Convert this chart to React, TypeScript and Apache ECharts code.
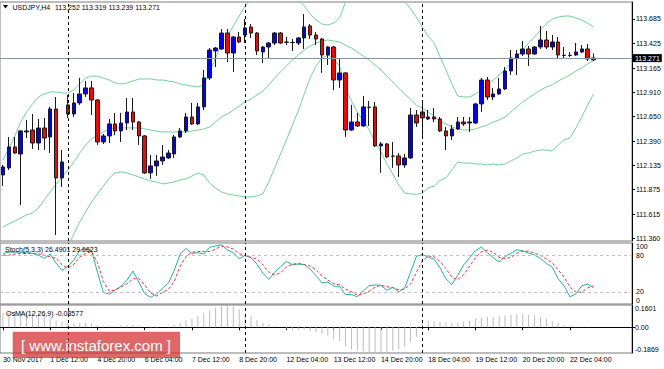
import React, { useEffect, useRef } from "react";
import * as echarts from "echarts";

// ---------- DATA ----------
const symbolName = "USDJPY,H4";
const xTickLabels = [
  "30 Nov 2017", "1 Dec 12:00", "4 Dec 20:00", "6 Dec 04:00", "7 Dec 12:00", "8 Dec 20:00",
  "12 Dec 04:00", "13 Dec 12:00", "14 Dec 20:00", "18 Dec 04:00", "19 Dec 12:00", "20 Dec 20:00", "22 Dec 04:00",
];
const barsPerTick = 8;
const slotCount = 107; // 101 bars + chart shift
const weekSeparators = [11, 41, 71];

const priceTicks = [113.685, 113.425, 113.165, 112.91, 112.65, 112.39, 112.135, 111.875, 111.615, 111.36];
const stochTicks = [0, 20, 80, 100];
const stochLevels = [80, 20];
const osmaTicks = [-0.1869, 0, 0.1601];
const osmaLabelValue = "-0.08577";

const open = [
  112.031, 112.106, 112.328, 112.254, 112.487, 112.508, 112.370, 112.529, 112.434, 112.731,
  111.999, 112.774, 112.678, 112.795, 112.890, 112.954, 112.826, 112.381, 112.445, 112.572,
  112.498, 112.582, 112.699, 112.593, 112.445, 112.053, 112.127, 112.180, 112.212, 112.254,
  112.434, 112.498, 112.646, 112.572, 112.753, 113.060, 113.346, 113.367, 113.536, 113.324,
  113.494, 113.515, 113.600, 113.536, 113.335, 113.388, 113.430, 113.536, 113.441, 113.435,
  113.430, 113.484, 113.611, 113.515, 113.473, 113.303, 113.388, 113.038, 113.113, 112.508,
  112.593, 112.551, 112.750, 112.753, 112.339, 112.360, 112.232, 112.233, 112.137, 112.212,
  112.667, 112.699, 112.625, 112.646, 112.625, 112.498, 112.445, 112.519, 112.593, 112.582,
  112.582, 112.784, 113.038, 112.858, 112.890, 112.943, 113.134, 113.271, 113.314, 113.367,
  113.314, 113.388, 113.462, 113.388, 113.441, 113.300, 113.298, 113.303, 113.335, 113.367,
  113.252,
];
const close = [
  112.116, 112.328, 112.264, 112.498, 112.498, 112.370, 112.529, 112.423, 112.731, 111.999,
  112.169, 112.678, 112.795, 112.890, 112.954, 112.826, 112.381, 112.445, 112.572, 112.498,
  112.582, 112.699, 112.593, 112.445, 112.053, 112.127, 112.180, 112.222, 112.264, 112.434,
  112.498, 112.646, 112.572, 112.753, 113.060, 113.356, 113.377, 113.536, 113.324, 113.494,
  113.441, 113.590, 113.536, 113.346, 113.388, 113.430, 113.536, 113.430, 113.438, 113.437,
  113.484, 113.600, 113.515, 113.473, 113.303, 113.388, 113.038, 113.113, 112.508, 112.593,
  112.551, 112.753, 112.748, 112.339, 112.360, 112.222, 112.230, 112.137, 112.212, 112.667,
  112.582, 112.636, 112.646, 112.625, 112.498, 112.445, 112.519, 112.593, 112.572, 112.593,
  112.784, 113.038, 112.858, 112.890, 112.943, 113.134, 113.271, 113.314, 113.367, 113.314,
  113.388, 113.462, 113.388, 113.441, 113.303, 113.298, 113.300, 113.335, 113.367, 113.261,
  113.271,
];
const low = [
  111.915, 112.084, 112.254, 111.713, 112.423, 112.307, 112.296, 112.296, 112.264, 111.395,
  111.904, 112.636, 112.646, 112.774, 112.858, 112.667, 112.349, 112.360, 112.370, 112.455,
  112.381, 112.508, 112.508, 112.349, 112.042, 111.989, 112.021, 112.137, 112.201, 112.212,
  112.423, 112.476, 112.561, 112.561, 112.720, 113.038, 113.176, 113.356, 113.229, 113.123,
  113.430, 113.430, 113.484, 113.303, 113.219, 113.261, 113.409, 113.420, 113.409, 113.346,
  113.409, 113.367, 113.473, 113.409, 113.113, 113.197, 112.932, 112.954, 112.434, 112.498,
  112.540, 112.540, 112.551, 112.328, 112.053, 112.212, 112.106, 112.010, 112.106, 112.201,
  112.540, 112.434, 112.614, 112.593, 112.487, 112.296, 112.402, 112.508, 112.551, 112.487,
  112.572, 112.699, 112.826, 112.826, 112.880, 112.932, 113.091, 113.091, 113.293, 113.187,
  113.303, 113.367, 113.367, 113.356, 113.261, 113.261, 113.282, 113.293, 113.324, 113.240,
  113.239,
];
const high = [
  112.137, 112.434, 112.434, 112.508, 112.614, 112.678, 112.625, 112.636, 112.753, 112.858,
  112.296, 112.880, 112.901, 113.060, 113.028, 113.028, 112.837, 112.466, 112.625, 112.689,
  112.689, 112.848, 112.848, 112.604, 112.455, 112.243, 112.243, 112.349, 112.296, 112.455,
  112.529, 112.689, 112.795, 112.795, 113.144, 113.377, 113.388, 113.579, 113.579, 113.505,
  113.547, 113.685, 113.632, 113.547, 113.398, 113.441, 113.547, 113.547, 113.494, 113.473,
  113.494, 113.738, 113.632, 113.547, 113.484, 113.398, 113.398, 113.271, 113.123, 112.774,
  112.689, 112.869, 112.816, 112.805, 112.381, 112.370, 112.381, 112.264, 112.254, 112.742,
  112.720, 112.826, 112.720, 112.742, 112.646, 112.540, 112.561, 112.646, 112.646, 112.646,
  112.795, 113.060, 113.070, 112.954, 113.060, 113.176, 113.356, 113.356, 113.452, 113.398,
  113.398, 113.611, 113.558, 113.515, 113.494, 113.388, 113.335, 113.430, 113.409, 113.420,
  113.319,
];

const bbUpper = [
  112.190, 112.317, 112.444, 112.593, 112.699, 112.784, 112.858, 112.890, 112.911, 112.911,
  112.900, 112.900, 112.932, 112.996, 113.059, 113.080, 113.080, 113.059, 113.038, 113.006,
  112.996, 113.006, 113.027, 113.049, 113.049, 113.049, 113.038, 113.038, 113.027, 113.017,
  112.996, 112.985, 112.974, 112.964, 112.985, 113.123, 113.271, 113.420, 113.504, 113.610,
  113.716, 113.822, 113.907, 113.971, 114.013, 114.013, 114.013, 113.992, 113.971, 113.928,
  113.897, 113.822, 113.738, 113.674, 113.632, 113.621, 113.642, 113.695, 113.865, 113.939,
  113.971, 113.981, 113.992, 114.013, 114.013, 114.013, 113.992, 113.950, 113.875, 113.791,
  113.705, 113.600, 113.504, 113.430, 113.282, 113.144, 112.996, 112.868, 112.858, 112.858,
  112.890, 112.932, 112.985, 113.038, 113.091, 113.144, 113.218, 113.292, 113.356, 113.430,
  113.494, 113.568, 113.632, 113.685, 113.706, 113.716, 113.716, 113.695, 113.674, 113.642,
  113.600,
];
const bbMiddle = [
  111.480, 111.512, 111.543, 111.575, 111.607, 111.628, 111.681, 111.766, 111.851, 111.936,
  112.010, 112.084, 112.169, 112.264, 112.349, 112.413, 112.455, 112.487, 112.519, 112.530,
  112.530, 112.530, 112.530, 112.530, 112.519, 112.508, 112.497, 112.487, 112.487, 112.487,
  112.487, 112.487, 112.497, 112.508, 112.519, 112.540, 112.593, 112.646, 112.678, 112.720,
  112.762, 112.805, 112.837, 112.879, 112.921, 112.985, 113.059, 113.123, 113.186, 113.250,
  113.303, 113.356, 113.398, 113.430, 113.451, 113.462, 113.451, 113.441, 113.409, 113.377,
  113.335, 113.292, 113.250, 113.197, 113.144, 113.080, 113.017, 112.953, 112.890, 112.837,
  112.770, 112.741, 112.699, 112.656, 112.600, 112.572, 112.540, 112.519, 112.508, 112.508,
  112.519, 112.540, 112.561, 112.593, 112.614, 112.646, 112.699, 112.752, 112.805, 112.847,
  112.890, 112.932, 112.964, 112.985, 113.027, 113.059, 113.091, 113.134, 113.165, 113.210,
  113.245,
];
const bbLower = [
  110.770, 110.706, 110.642, 110.558, 110.515, 110.473, 110.505, 110.642, 110.791, 110.960,
  111.119, 111.268, 111.406, 111.533, 111.639, 111.745, 111.830, 111.914, 111.999, 112.052,
  112.063, 112.052, 112.031, 112.010, 111.989, 111.967, 111.957, 111.936, 111.946, 111.957,
  111.978, 111.989, 112.020, 112.052, 112.031, 111.946, 111.893, 111.851, 111.830, 111.819,
  111.808, 111.798, 111.798, 111.808, 111.830, 111.957, 112.105, 112.254, 112.402, 112.561,
  112.709, 112.890, 113.059, 113.186, 113.271, 113.303, 113.261, 113.186, 112.953, 112.815,
  112.699, 112.603, 112.508, 112.381, 112.275, 112.148, 112.042, 111.925, 111.840, 111.830,
  111.825, 111.840, 111.893, 111.914, 111.972, 111.999, 112.084, 112.169, 112.158, 112.158,
  112.148, 112.148, 112.137, 112.148, 112.137, 112.148, 112.179, 112.211, 112.254, 112.264,
  112.285, 112.296, 112.296, 112.285, 112.349, 112.402, 112.423, 112.529, 112.646, 112.773,
  112.890,
];

const stochMain = [
  83, 85, 85, 85, 84, 83, 80, 75, 82, 67,
  55, 62, 72, 88, 90, 88, 52, 19, 16, 23,
  29, 39, 54, 36, 17, 11, 16, 26, 34, 55,
  82, 91, 83, 84, 82, 93, 95, 97, 88.6, 84.2,
  74.2, 79.6, 75.8, 65.4, 50.6, 40.4, 51.8, 61.2, 69.9, 64.3,
  65.4, 64.6, 57.0, 46.8, 34.5, 36.1, 29.3, 29.0, 15.3, 15.7,
  11.8, 21.5, 30.1, 31.2, 30.9, 22.4, 27.3, 19.9, 26.2, 51.9,
  78.0, 81.4, 76.6, 73.6, 59.2, 41.2, 31.9, 47.0, 64.1, 75.9,
  87.4, 93.5, 84.2, 76.2, 68.8, 77.6, 83.1, 89.0, 87.0, 83.7,
  80.2, 74.9, 66.6, 60.4, 41.5, 29.6, 11.8, 16.6, 30.0, 32.5,
  26.4901,
];
const stochSignal = [
  80, 80, 82, 83, 83, 83, 82, 80, 77, 75,
  64, 59, 65, 77, 83, 86, 68, 37, 21, 23,
  28, 33, 41, 42, 31, 18, 13, 19, 24, 37,
  62, 78, 85, 86, 86, 86, 90, 95, 93.7, 90.0,
  82.3, 79.3, 76.5, 73.6, 63.9, 52.1, 47.6, 51.1, 61.0, 65.1,
  66.5, 64.8, 62.3, 56.1, 46.1, 39.1, 33.3, 31.5, 24.5, 20.0,
  14.3, 16.3, 21.1, 27.6, 30.7, 28.2, 26.9, 23.2, 24.5, 32.7,
  52.0, 70.4, 78.7, 77.2, 69.8, 58.0, 44.1, 40.0, 47.7, 62.3,
  75.8, 85.6, 88.4, 84.6, 76.4, 74.2, 76.5, 83.2, 86.4, 86.6,
  83.6, 79.6, 73.9, 67.3, 56.2, 43.8, 27.6, 19.3, 19.5, 26.4,
  29.6623,
];
const osma = [
  0.100, 0.105, 0.110, 0.110, 0.105, 0.100, 0.095, 0.090, 0.070, 0.050,
  0.040, 0.030, 0.025, 0.030, 0.030, 0.025, 0.010, 0.005, 0.010, 0.010,
  0.012, 0.015, 0.015, 0.012, 0.000, -0.005, -0.005, 0.000, 0.005, 0.015,
  0.030, 0.050, 0.060, 0.080, 0.100, 0.120, 0.140, 0.155, 0.1601, 0.150,
  0.130, 0.100, 0.080, 0.050, 0.030, 0.020, 0.010, 0.000, -0.010, -0.020,
  -0.020, -0.020, -0.030, -0.035, -0.050, -0.060, -0.090, -0.100, -0.140, -0.160,
  -0.170, -0.175, -0.180, -0.1869, -0.185, -0.180, -0.170, -0.160, -0.140, -0.110,
  -0.070, 0.040, 0.050, 0.045, 0.040, 0.035, 0.030, 0.035, 0.040, 0.045,
  0.060, 0.070, 0.075, 0.075, 0.080, 0.085, 0.090, 0.095, 0.095, 0.090,
  0.085, 0.075, 0.060, 0.045, 0.030, 0.015, 0.010, 0.005, 0.005, 0.005,
  0.000,
];

// ---------- CHART ----------
const FONT = "Liberation Sans, Arial, sans-serif";
const last = open.length - 1;

export default function App() {
  const ref = useRef<HTMLDivElement>(null);

  useEffect(() => {
    if (!ref.current) return;
    const chart = echarts.init(ref.current, null, { renderer: "svg" });

    const slots = Array.from({ length: slotCount }, (_, i) => String(i));
    const showTick = (index: number) =>
      index % barsPerTick === 0 && index / barsPerTick < xTickLabels.length;

    const separatorLines = weekSeparators.map((b) => ({
      xAxis: b,
      lineStyle: { color: "#000", type: [3, 3], width: 1 },
      label: { show: false },
    }));

    const gridBase = {
      left: 0,
      width: 632,
      show: true,
      borderColor: "#7a7a7a",
      borderWidth: 1,
      containLabel: false,
      outerBoundsMode: "none",
    };

    const xAxisFor = (gridIndex: number, labelled: boolean) => ({
      type: "category",
      gridIndex,
      data: slots,
      boundaryGap: true,
      axisLine: { show: labelled, lineStyle: { color: "#000", width: 1 } },
      axisTick: {
        show: labelled,
        alignWithLabel: true,
        interval: (i: number) => showTick(i),
        length: 3,
        lineStyle: { color: "#000" },
      },
      axisLabel: {
        show: labelled,
        interval: (i: number) => showTick(i),
        formatter: (_v: string, i: number) => (showTick(i) ? xTickLabels[i / barsPerTick] : ""),
        align: "left",
        fontSize: 7,
        fontFamily: FONT,
        color: "#000",
        margin: 3,
      },
      splitLine: { show: false },
    });

    const yAxisBase = {
      type: "value",
      position: "right",
      axisLine: { show: true, onZero: false, lineStyle: { color: "#000", width: 1 } },
      splitLine: { show: false },
    };

    const candleData = open.map((o, i) => [o, close[i], low[i], high[i]]);

    const option: any = {
      animation: false,
      backgroundColor: "#fff",
      grid: [
        { ...gridBase, top: 2, height: 239 },
        { ...gridBase, top: 243, height: 61 },
        { ...gridBase, top: 305, height: 48 },
      ],
      xAxis: [xAxisFor(0, false), xAxisFor(1, false), xAxisFor(2, true)],
      yAxis: [
        {
          ...yAxisBase,
          gridIndex: 0,
          min: 111.331,
          max: 113.865,
          axisTick: { show: true, customValues: priceTicks, length: 3, lineStyle: { color: "#000" } },
          axisLabel: {
            customValues: priceTicks,
            formatter: (v: number) => v.toFixed(3),
            fontSize: 7,
            fontFamily: FONT,
            color: "#000",
            margin: 4,
          },
        },
        {
          ...yAxisBase,
          gridIndex: 1,
          min: 0,
          max: 100,
          axisTick: { show: false },
          axisLabel: {
            customValues: stochTicks,
            formatter: (v: number) => String(v),
            fontSize: 7,
            fontFamily: FONT,
            color: "#000",
            margin: 4,
            verticalAlignMinLabel: "bottom",
            verticalAlignMaxLabel: "top",
          },
        },
        {
          ...yAxisBase,
          gridIndex: 2,
          min: osmaTicks[0],
          max: osmaTicks[2],
          axisTick: { show: true, customValues: [0], length: 3, lineStyle: { color: "#000" } },
          axisLabel: {
            customValues: osmaTicks,
            formatter: (v: number) => (v === 0 ? "0.00" : v.toFixed(4)),
            fontSize: 7,
            fontFamily: FONT,
            color: "#000",
            margin: 3,
            verticalAlignMinLabel: "bottom",
            verticalAlignMaxLabel: "top",
          },
        },
      ],
      series: [
        {
          type: "candlestick",
          xAxisIndex: 0,
          yAxisIndex: 0,
          data: candleData,
          barWidth: 4,
          itemStyle: {
            color: "#0000ff",
            color0: "#ff0000",
            borderColor: "#1a1a1a",
            borderColor0: "#1a1a1a",
            borderWidth: 1,
          },
          markLine: {
            silent: true,
            symbol: ["none", "none"],
            animation: false,
            data: [
              {
                yAxis: close[last],
                lineStyle: { color: "#8395a7", type: "solid", width: 1 },
                label: {
                  show: true,
                  position: "end",
                  distance: 1,
                  formatter: close[last].toFixed(3),
                  backgroundColor: "#000",
                  color: "#fff",
                  fontSize: 7,
                  fontFamily: FONT,
                  padding: [1, 2, 0, 2],
                },
              },
              ...separatorLines,
            ],
          },
          z: 3,
        },
        ...[bbUpper, bbMiddle, bbLower].map((d) => ({
          type: "line",
          xAxisIndex: 0,
          yAxisIndex: 0,
          data: d,
          showSymbol: false,
          symbol: "none",
          lineStyle: { color: "#6fd29c", width: 1 },
          clip: true,
          z: 2,
        })),
        {
          type: "line",
          xAxisIndex: 1,
          yAxisIndex: 1,
          data: stochMain,
          symbol: "none",
          lineStyle: { color: "#20b2aa", width: 1 },
          markLine: {
            silent: true,
            symbol: ["none", "none"],
            animation: false,
            data: [
              ...stochLevels.map((v) => ({
                yAxis: v,
                lineStyle: { color: "#c0c0c0", type: [3, 3], width: 1 },
                label: { show: false },
              })),
              ...separatorLines,
            ],
          },
        },
        {
          type: "line",
          xAxisIndex: 1,
          yAxisIndex: 1,
          data: stochSignal,
          symbol: "none",
          lineStyle: { color: "#ff3030", width: 1, type: [3, 2] },
        },
        {
          type: "bar",
          xAxisIndex: 2,
          yAxisIndex: 2,
          data: osma,
          barWidth: 1,
          itemStyle: { color: "#bdbdbd" },
          markLine: {
            silent: true,
            symbol: ["none", "none"],
            animation: false,
            data: separatorLines,
          },
        },
      ],
      graphic: [
        {
          type: "polygon",
          shape: { points: [[3, 5], [8, 5], [5.5, 8.5]] },
          style: { fill: "#000" },
          z: 10,
        },
        {
          type: "text",
          x: 12.5,
          y: 7.5,
          style: { text: symbolName, fontSize: 7, fontFamily: FONT, fill: "#000", verticalAlign: "middle" },
          z: 10,
        },
        {
          type: "text",
          x: 55,
          y: 7.5,
          style: {
            text: [open[last], high[last], low[last], close[last]].map((v) => v.toFixed(3)).join(" "),
            fontSize: 7,
            fontFamily: FONT,
            fill: "#000",
            verticalAlign: "middle",
          },
          z: 10,
        },
        {
          type: "text",
          x: 5,
          y: 249,
          style: {
            text: `Stoch(5,3,3) ${stochMain[last].toFixed(4)} ${stochSignal[last].toFixed(4)}`,
            fontSize: 7,
            fontFamily: FONT,
            fill: "#000",
            verticalAlign: "middle",
          },
          z: 10,
        },
        {
          type: "text",
          x: 6,
          y: 313,
          style: {
            text: `OsMA(12,26,9) ${osmaLabelValue}`,
            fontSize: 7,
            fontFamily: FONT,
            fill: "#000",
            verticalAlign: "middle",
          },
          z: 10,
        },
        {
          type: "rect",
          shape: { x: 12.7, y: 331.7, width: 167.3, height: 26.3 },
          style: { fill: "rgba(210,45,45,0.72)" },
          z: 20,
        },
        {
          type: "text",
          x: 96,
          y: 345,
          style: {
            text: "[ www.instaforex.com ]",
            fontSize: 15,
            fontFamily: FONT,
            fill: "#fff",
            align: "center",
            verticalAlign: "middle",
          },
          z: 21,
        },
      ],
    };

    chart.setOption(option);
    return () => chart.dispose();
  }, []);

  return (
    <div
      ref={ref}
      style={{ position: "fixed", left: 0, top: 0, width: 664, height: 369, background: "#fff" }}
    />
  );
}
